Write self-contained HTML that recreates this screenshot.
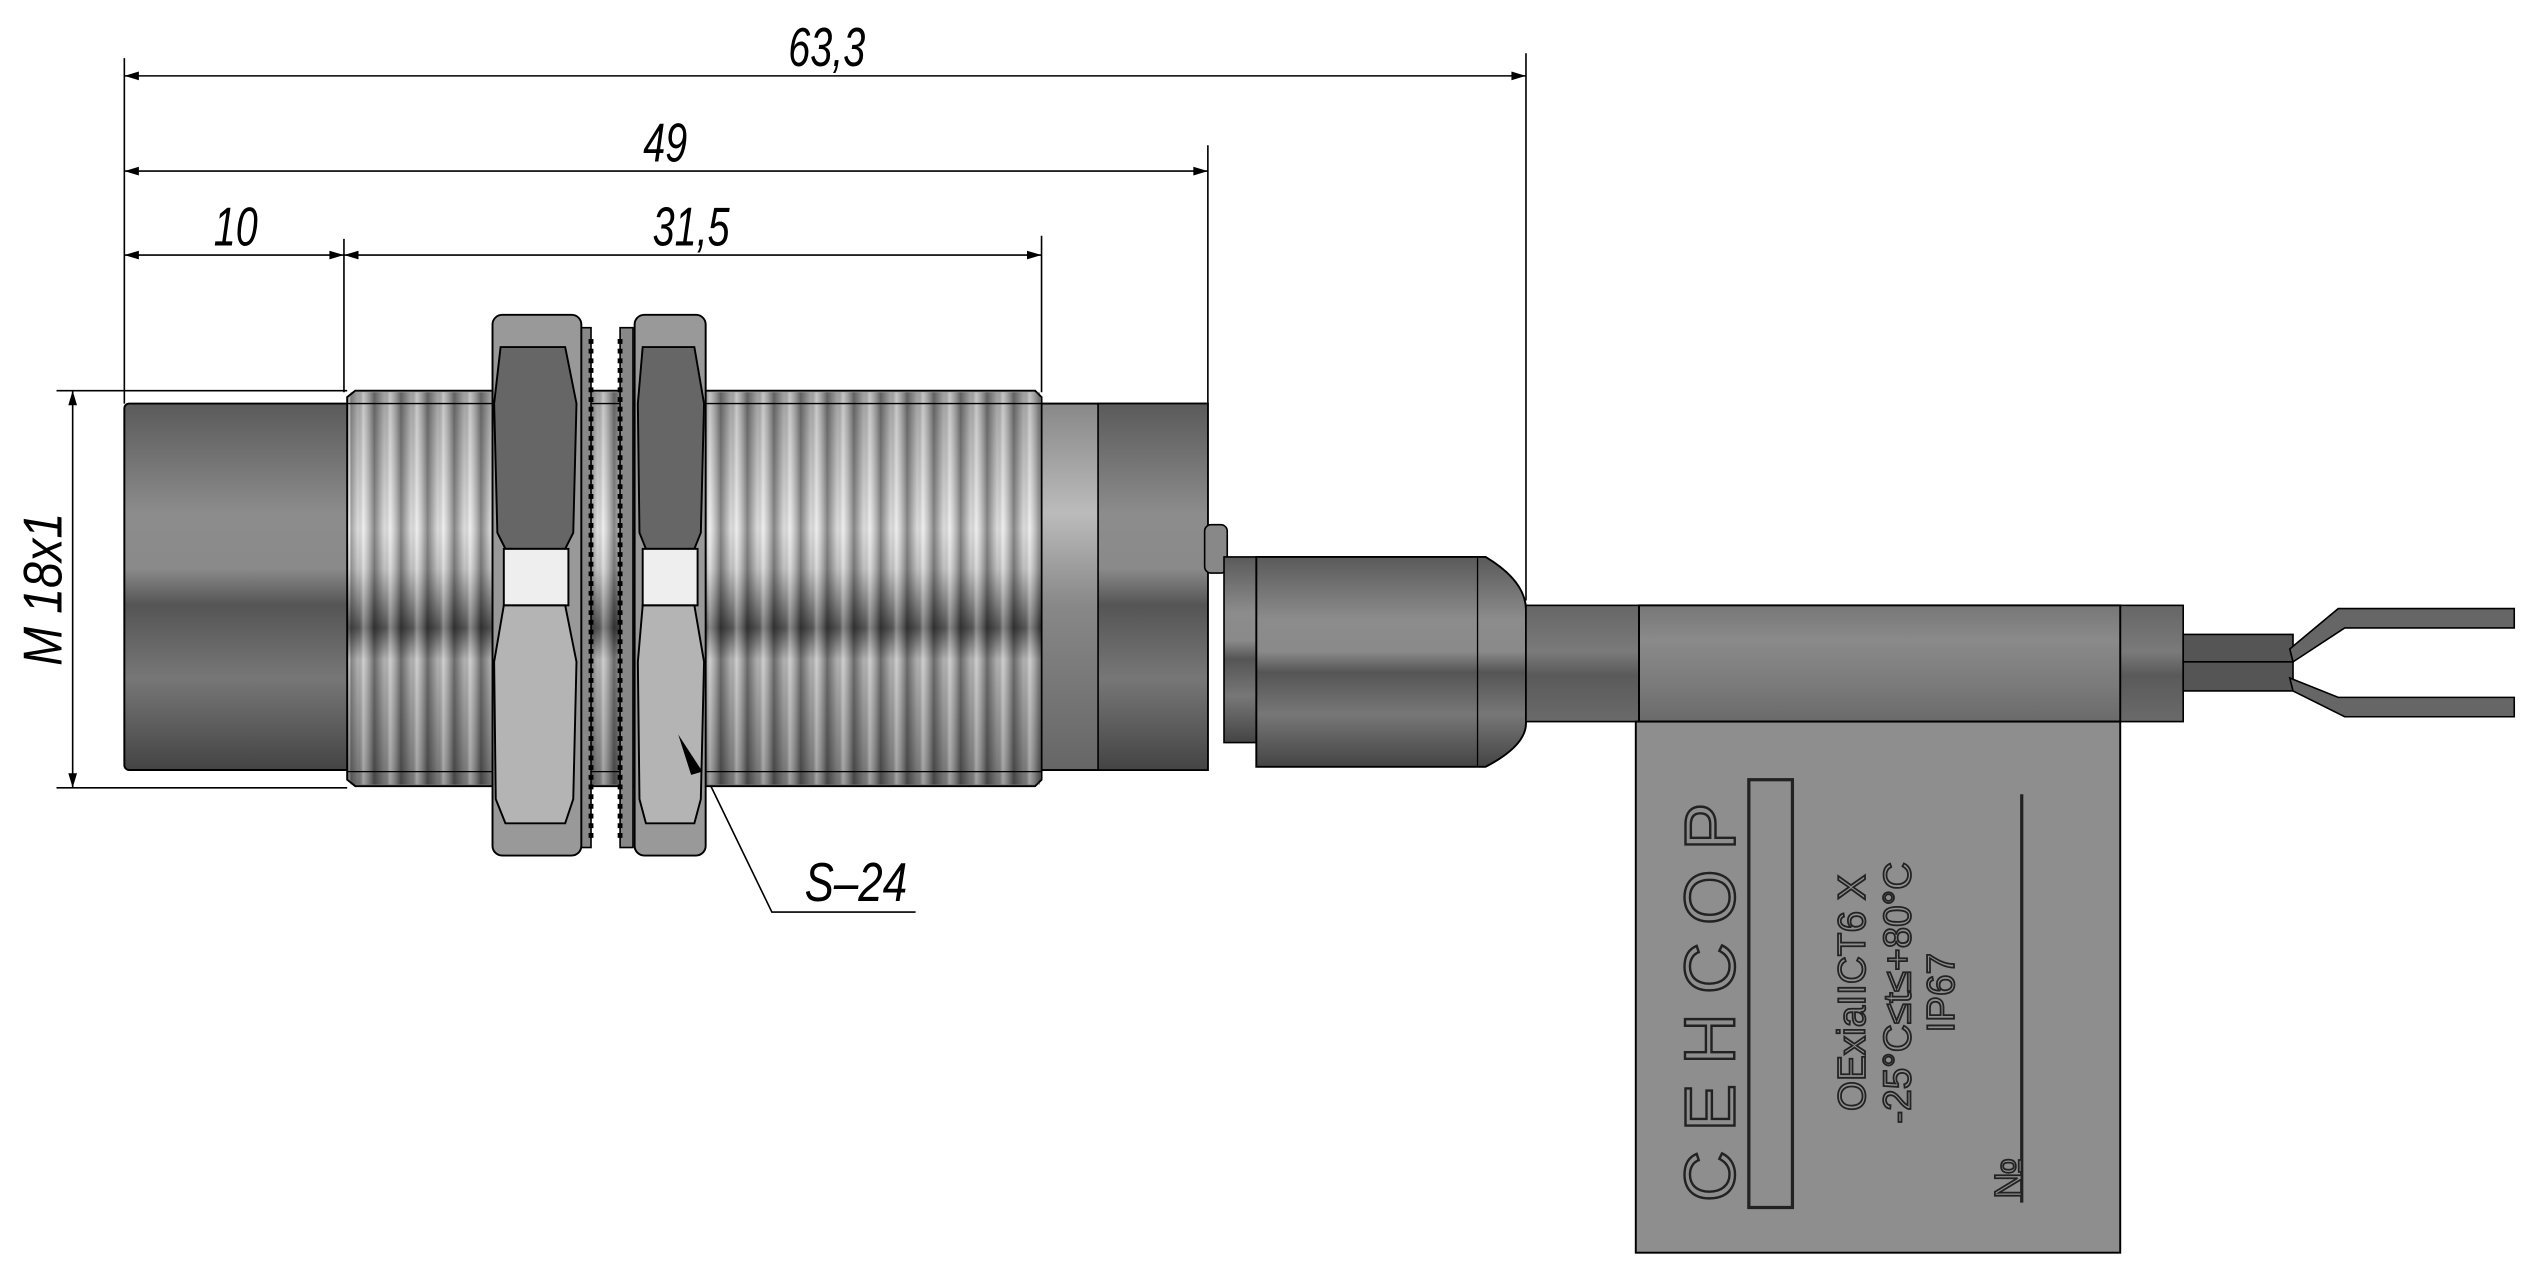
<!DOCTYPE html>
<html><head><meta charset="utf-8"><style>
html,body{margin:0;padding:0;background:#fff;overflow:hidden}
svg{display:block}
.dim{font-family:"Liberation Sans",sans-serif;font-style:italic;font-size:34px;fill:#000}
</style></head><body>
<svg width="2532" height="1264" viewBox="0 0 1568 783" preserveAspectRatio="none" xmlns="http://www.w3.org/2000/svg">
<defs>
<linearGradient id="cyl" x1="0" y1="0" x2="0" y2="1">
<stop offset="0" stop-color="#5a5a5a"/><stop offset="0.3" stop-color="#8c8c8c"/><stop offset="0.45" stop-color="#8a8a8a"/><stop offset="0.55" stop-color="#555"/><stop offset="0.75" stop-color="#777"/><stop offset="1" stop-color="#444"/>
</linearGradient>
<linearGradient id="thr" x1="0" y1="0" x2="0" y2="1">
<stop offset="0" stop-color="#aaa"/><stop offset="0.35" stop-color="#e8e8e8"/><stop offset="0.45" stop-color="#ccc"/><stop offset="0.6" stop-color="#555"/><stop offset="0.68" stop-color="#bbb"/><stop offset="1" stop-color="#777"/>
</linearGradient>
<linearGradient id="str" x1="0" y1="0" x2="1" y2="0">
<stop offset="0" stop-color="#000" stop-opacity="0.45"/><stop offset="0.4" stop-color="#000" stop-opacity="0.05"/><stop offset="0.6" stop-color="#fff" stop-opacity="0.3"/><stop offset="1" stop-color="#000" stop-opacity="0.4"/>
</linearGradient>
<pattern id="stripes" x="215" y="0" width="16.5" height="800" patternUnits="userSpaceOnUse">
<rect width="16.5" height="800" fill="url(#str)"/>
</pattern>
<linearGradient id="rear" x1="0" y1="0" x2="0" y2="1">
<stop offset="0" stop-color="#888"/><stop offset="0.3" stop-color="#bbb"/><stop offset="0.55" stop-color="#888"/><stop offset="1" stop-color="#666"/>
</linearGradient>
<linearGradient id="cab" x1="0" y1="0" x2="0" y2="1">
<stop offset="0" stop-color="#666"/><stop offset="0.4" stop-color="#7a7a7a"/><stop offset="0.6" stop-color="#5a5a5a"/><stop offset="1" stop-color="#6a6a6a"/>
</linearGradient>
<linearGradient id="sleeve" x1="0" y1="0" x2="0" y2="1">
<stop offset="0" stop-color="#777"/><stop offset="0.3" stop-color="#8a8a8a"/><stop offset="0.7" stop-color="#7a7a7a"/><stop offset="1" stop-color="#6a6a6a"/>
</linearGradient>
<marker id="ar" viewBox="0 0 10 10" refX="10" refY="5" markerWidth="30" markerHeight="9" markerUnits="userSpaceOnUse" orient="auto-start-reverse"><path d="M0,2 L10,5 L0,8z" fill="#000"/></marker>
</defs>

<g stroke="#000" stroke-width="1" fill="none">
<line x1="77" y1="36" x2="77" y2="250"/>
<line x1="213" y1="148" x2="213" y2="243"/>
<line x1="645" y1="146" x2="645" y2="243"/>
<line x1="748" y1="90" x2="748" y2="250"/>
<line x1="945" y1="33" x2="945" y2="372"/>
<line x1="77" y1="47" x2="945" y2="47" marker-start="url(#ar)" marker-end="url(#ar)"/>
<line x1="77" y1="106" x2="748" y2="106" marker-start="url(#ar)" marker-end="url(#ar)"/>
<line x1="77" y1="158" x2="213" y2="158" marker-start="url(#ar)" marker-end="url(#ar)"/>
<line x1="213" y1="158" x2="645" y2="158" marker-start="url(#ar)" marker-end="url(#ar)"/>
<line x1="35" y1="242" x2="215" y2="242"/>
<line x1="35" y1="488" x2="215" y2="488"/>
<line x1="45" y1="242" x2="45" y2="488" marker-start="url(#ar)" marker-end="url(#ar)"/>
<polyline points="432,470 478,565 567,565"/>
</g>
<text class="dim" x="512" y="41" text-anchor="middle" transform="translate(512 0) scale(0.72 1) translate(-512 0)">63,3</text>
<text class="dim" x="412" y="100" text-anchor="middle" transform="translate(412 0) scale(0.72 1) translate(-412 0)">49</text>
<text class="dim" x="146" y="152" text-anchor="middle" transform="translate(146 0) scale(0.72 1) translate(-146 0)">10</text>
<text class="dim" x="428" y="152" text-anchor="middle" transform="translate(428 0) scale(0.72 1) translate(-428 0)">31,5</text>
<text class="dim" x="530" y="558" text-anchor="middle" transform="translate(530 0) scale(0.8 1) translate(-530 0)">S–24</text>
<text class="dim" x="0" y="0" text-anchor="middle" transform="translate(38 365) rotate(-90) scale(0.85 1)">M 18x1</text>

<rect x="77" y="250" width="140" height="227" rx="3" fill="url(#cyl)" stroke="#000" stroke-width="1.2"/>
<path d="M220,242 L641,242 L645,246 L645,483 L641,487 L220,487 L215,483 L215,246Z" fill="url(#thr)" stroke="#000" stroke-width="1.2"/>
<rect x="217" y="243" width="427" height="243" fill="url(#stripes)"/>
<line x1="215" y1="250" x2="645" y2="250" stroke="#000" stroke-width="0.8"/>
<line x1="215" y1="478" x2="645" y2="478" stroke="#000" stroke-width="0.8"/>
<rect x="645" y="250" width="103" height="227" fill="url(#rear)" stroke="#000" stroke-width="1.2"/>
<rect x="680" y="250" width="68" height="227" fill="url(#cyl)" stroke="#000" stroke-width="1"/>
<rect x="358" y="203" width="8" height="322" fill="#888" stroke="#000"/>
<rect x="384" y="203" width="8" height="322" fill="#888" stroke="#000"/>
<g stroke="#000" stroke-width="1" fill="none">
<path d="M366,210 V520 M384,210 V520" stroke-dasharray="3,3" stroke-width="3"/>
</g>
<g stroke="#000" stroke-width="1.2">
<rect x="305" y="195" width="55" height="335" rx="6" fill="#999"/>
<path d="M310,215 L350,215 L357,250 L355,330 L350,340 L313,340 L308,330 L306,250Z" fill="#666"/>
<rect x="312" y="340" width="40" height="35" fill="#eee"/>
<path d="M312,375 L350,375 L357,410 L355,495 L350,510 L313,510 L307,495 L306,410Z" fill="#b4b4b4"/>
<rect x="393" y="195" width="44" height="335" rx="6" fill="#999"/>
<path d="M398,215 L430,215 L436,250 L434,330 L430,340 L400,340 L396,330 L395,250Z" fill="#666"/>
<rect x="398" y="340" width="34" height="35" fill="#eee"/>
<path d="M398,375 L430,375 L436,410 L434,495 L430,510 L400,510 L396,495 L395,410Z" fill="#b4b4b4"/>
</g>
<path d="M420,455 L435,478 L428,480Z" fill="#000"/>
<rect x="746" y="325" width="14" height="30" rx="4" fill="#888" stroke="#000"/>
<rect x="758" y="345" width="22" height="115" fill="url(#cyl)" stroke="#000"/>
<path d="M778,345 L920,345 Q945,360 945,378 L945,448 Q945,462 920,475 L778,475Z" fill="url(#cyl)" stroke="#000" stroke-width="1.2"/>
<line x1="915" y1="345" x2="915" y2="475" stroke="#000" stroke-width="0.8"/>
<rect x="945" y="375" width="70" height="72" fill="url(#cab)" stroke="#000"/>
<rect x="1313" y="375" width="39" height="72" fill="url(#cab)" stroke="#000"/>
<rect x="1015" y="375" width="298" height="72" fill="url(#sleeve)" stroke="#000" stroke-width="1.2"/>
<rect x="1352" y="393" width="68" height="17" fill="#555" stroke="#000"/>
<rect x="1352" y="410" width="68" height="18" fill="#555" stroke="#000"/>
<path d="M1418,402 L1448,377 L1557,377 L1557,389 L1452,389 L1420,410Z" fill="#666" stroke="#000"/>
<path d="M1418,420 L1448,432 L1557,432 L1557,444 L1452,444 L1420,428Z" fill="#666" stroke="#000"/>
<rect x="1013" y="447" width="300" height="329" fill="#8e8e8e" stroke="#000" stroke-width="1.2"/>
<rect x="1083" y="483" width="27" height="265" fill="none" stroke="#222" stroke-width="2"/>
<line x1="1252" y1="492" x2="1252" y2="745" stroke="#222" stroke-width="2"/>
<text x="0" y="0" transform="translate(1074 615) rotate(-90)" text-anchor="middle" font-family="Liberation Sans,sans-serif" font-size="44" letter-spacing="12" fill="none" stroke="#222" stroke-width="1.5">СЕНСОР</text>
<g font-family="Liberation Sans,sans-serif" font-size="24" fill="#8e8e8e" stroke="#222" stroke-width="1.1" text-anchor="middle">
<text transform="translate(1155 615) rotate(-90)">OExiaIICT6 X</text>
<text transform="translate(1183 615) rotate(-90)">-25°C≤t≤+80°C</text>
<text transform="translate(1210 615) rotate(-90)">IP67</text>
<text transform="translate(1252 730) rotate(-90)">№</text>
</g>
</svg>
</body></html>
